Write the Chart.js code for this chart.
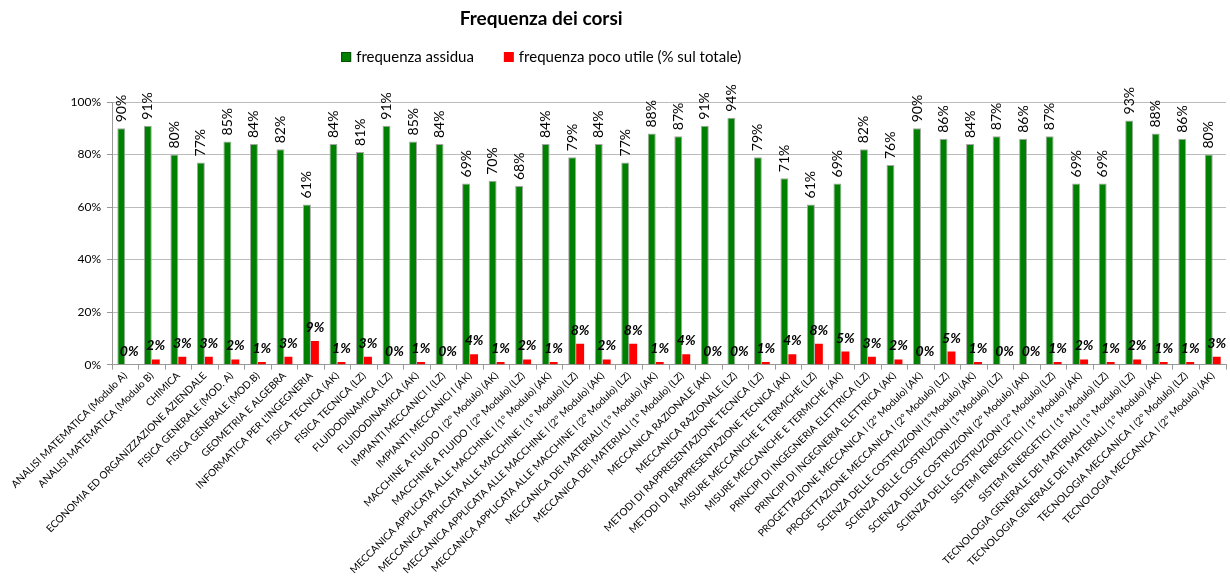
<!DOCTYPE html>
<html>
<head>
<meta charset="utf-8">
<title>Frequenza dei corsi</title>
<script src="https://cdn.jsdelivr.net/npm/chart.js@4.4.1/dist/chart.umd.min.js"></script>
<style>
    html, body { margin: 0; padding: 0; background: #fff; }
    #wrap { position: relative; width: 1230px; height: 576px; }
</style>
</head>
<body>
<div id="wrap"><canvas id="freqChart"></canvas></div>
<script>
// Chart data
const courses = [
    'ANALISI MATEMATICA (Modulo A)',
    'ANALISI MATEMATICA (Modulo B)',
    'CHIMICA',
    'ECONOMIA ED ORGANIZZAZIONE AZIENDALE',
    'FISICA GENERALE (MOD. A)',
    'FISICA GENERALE (MOD.B)',
    'GEOMETRIA E ALGEBRA',
    "INFORMATICA PER L'INGEGNERIA",
    'FISICA TECNICA (AK)',
    'FISICA TECNICA (LZ)',
    'FLUIDODINAMICA (LZ)',
    'FLUIDODINAMICA (AK)',
    'IMPIANTI MECCANICI I (LZ)',
    'IMPIANTI MECCANICI I (AK)',
    'MACCHINE A FLUIDO I (2° Modulo) (AK)',
    'MACCHINE A FLUIDO I (2° Modulo) (LZ)',
    'MECCANICA APPLICATA ALLE MACCHINE I (1° Modulo) (AK)',
    'MECCANICA APPLICATA ALLE MACCHINE I (1° Modulo) (LZ)',
    'MECCANICA APPLICATA ALLE MACCHINE I (2° Modulo) (AK)',
    'MECCANICA APPLICATA ALLE MACCHINE I (2° Modulo) (LZ)',
    'MECCANICA DEI MATERIALI (1° Modulo) (AK)',
    'MECCANICA DEI MATERIALI (1° Modulo) (LZ)',
    'MECCANICA RAZIONALE (AK)',
    'MECCANICA RAZIONALE (LZ)',
    'METODI DI RAPPRESENTAZIONE TECNICA (LZ)',
    'METODI DI RAPPRESENTAZIONE TECNICA (AK)',
    'MISURE MECCANICHE E TERMICHE (LZ)',
    'MISURE MECCANICHE E TERMICHE (AK)',
    'PRINCIPI DI INGEGNERIA ELETTRICA (LZ)',
    'PRINCIPI DI INGEGNERIA ELETTRICA (AK)',
    'PROGETTAZIONE MECCANICA I (2° Modulo) (AK)',
    'PROGETTAZIONE MECCANICA I (2° Modulo) (LZ)',
    'SCIENZA DELLE COSTRUZIONI (1°Modulo) (AK)',
    'SCIENZA DELLE COSTRUZIONI (1°Modulo) (LZ)',
    'SCIENZA DELLE COSTRUZIONI (2° Modulo) (AK)',
    'SCIENZA DELLE COSTRUZIONI (2° Modulo) (LZ)',
    'SISTEMI ENERGETICI I (1° Modulo) (AK)',
    'SISTEMI ENERGETICI I (1° Modulo) (LZ)',
    'TECNOLOGIA GENERALE DEI MATERIALI (1° Modulo) (LZ)',
    'TECNOLOGIA GENERALE DEI MATERIALI (1° Modulo) (AK)',
    'TECNOLOGIA MECCANICA I (2° Modulo) (LZ)',
    'TECNOLOGIA MECCANICA I (2° Modulo) (AK)'
];

const frequenzaAssidua = [
    90, 91, 80, 77, 85, 84, 82, 61, 84, 81, 91, 85, 84, 69,
    70, 68, 84, 79, 84, 77, 88, 87, 91, 94, 79, 71, 61, 69,
    82, 76, 90, 86, 84, 87, 86, 87, 69, 69, 93, 88, 86, 80
];

const frequenzaPocoUtile = [
    0, 2, 3, 3, 2, 1, 3, 9, 1, 3, 0, 1, 0, 4,
    1, 2, 1, 8, 2, 8, 1, 4, 0, 0, 1, 4, 8, 5,
    3, 2, 0, 5, 1, 0, 0, 1, 2, 1, 2, 1, 1, 3
];

const yTicks = [0, 20, 40, 60, 80, 100];

const chartTitle = 'Frequenza dei corsi';
const seriesNames = ['frequenza assidua', 'frequenza poco utile (% sul totale)'];

const FONT = 'Lato, "Liberation Sans", sans-serif';

// Title + legend drawn a bit left of centre, like the original sheet
const headerPlugin = {
    id: 'header',
    afterDraw(chart) {
        const ctx = chart.ctx;
        const cx = chart.width * 0.44;
        ctx.save();
        ctx.fillStyle = '#000';
        ctx.textAlign = 'center';
        ctx.textBaseline = 'middle';
        ctx.font = 'bold 19px ' + FONT;
        ctx.fillText(chartTitle, cx, 19);

        ctx.font = '15px ' + FONT;
        const box = 10, gap = 5, spacing = 30;
        const widths = chart.data.datasets.map(ds => box + gap + ctx.measureText(ds.label).width);
        const total = widths.reduce((a, b) => a + b, 0) + spacing * (widths.length - 1);
        let x = cx - total / 2;
        const y = 57;
        ctx.textAlign = 'left';
        chart.data.datasets.forEach((ds, i) => {
            ctx.fillStyle = ds.backgroundColor;
            ctx.fillRect(x, y - box / 2, box, box);
            if (ds.borderWidth) {
                ctx.strokeStyle = '#005000';
                ctx.lineWidth = 1;
                ctx.strokeRect(x + 0.5, y - box / 2 + 0.5, box - 1, box - 1);
            }
            ctx.fillStyle = '#000';
            ctx.fillText(ds.label, x + box + gap, y);
            x += widths[i] + spacing;
        });
        ctx.restore();
    }
};

// Value labels: vertical on green bars, bold italic on red bars
const valueLabels = {
    id: 'valueLabels',
    afterDatasetsDraw(chart) {
        const ctx = chart.ctx;
        ctx.save();
        ctx.fillStyle = '#000';
        chart.getDatasetMeta(0).data.forEach((bar, i) => {
            const v = chart.data.datasets[0].data[i];
            ctx.save();
            ctx.translate(bar.x, bar.y - 6);
            ctx.rotate(-Math.PI / 2);
            ctx.font = '14px ' + FONT;
            ctx.textAlign = 'left';
            ctx.textBaseline = 'middle';
            ctx.fillText(v + '%', 0, 0);
            ctx.restore();
        });
        chart.getDatasetMeta(1).data.forEach((bar, i) => {
            const v = chart.data.datasets[1].data[i];
            ctx.font = 'italic bold 14px ' + FONT;
            ctx.textAlign = 'center';
            ctx.textBaseline = 'alphabetic';
            ctx.fillText(v + '%', bar.x, bar.y - 9);
        });
        ctx.restore();
    }
};

document.addEventListener('DOMContentLoaded', function() {
    const ctx = document.getElementById('freqChart').getContext('2d');
    new Chart(ctx, {
        type: 'bar',
        data: {
            labels: courses,
            datasets: [{
                label: seriesNames[0],
                data: frequenzaAssidua,
                backgroundColor: '#008000',
                borderColor: '#a6a6a6',
                borderWidth: 1,
                borderSkipped: 'bottom',
                categoryPercentage: 0.6,
                barPercentage: 1
            }, {
                label: seriesNames[1],
                data: frequenzaPocoUtile,
                backgroundColor: '#ff0000',
                borderWidth: 0,
                categoryPercentage: 0.6,
                barPercentage: 1
            }]
        },
        options: {
            responsive: true,
            maintainAspectRatio: false,
            animation: false,
            layout: {
                padding: { top: 102, right: 4, left: 0, bottom: 0 }
            },
            plugins: {
                legend: { display: false },
                title: { display: false },
                tooltip: { enabled: false }
            },
            scales: {
                x: {
                    grid: {
                        display: true,
                        drawOnChartArea: false,
                        offset: true,
                        color: '#999',
                        tickLength: 5
                    },
                    border: { color: '#999' },
                    ticks: {
                        autoSkip: false,
                        minRotation: 45,
                        maxRotation: 45,
                        padding: 0,
                        color: '#000',
                        font: { family: FONT, size: 10.2 }
                    }
                },
                y: {
                    min: 0,
                    max: 100,
                    afterBuildTicks: axis => {
                        axis.ticks = yTicks.map(v => ({ value: v }));
                    },
                    afterFit: axis => {
                        axis.width = 112;
                    },
                    grid: {
                        color: '#bbb',
                        borderDash: [2, 2],
                        tickBorderDash: [],
                        tickColor: '#999',
                        tickLength: 5
                    },
                    border: { color: '#999' },
                    ticks: {
                        color: '#000',
                        padding: 6,
                        font: { family: FONT, size: 12 },
                        callback: v => v + '%'
                    }
                }
            }
        },
        plugins: [headerPlugin, valueLabels]
    });
});
</script>
</body>
</html>
